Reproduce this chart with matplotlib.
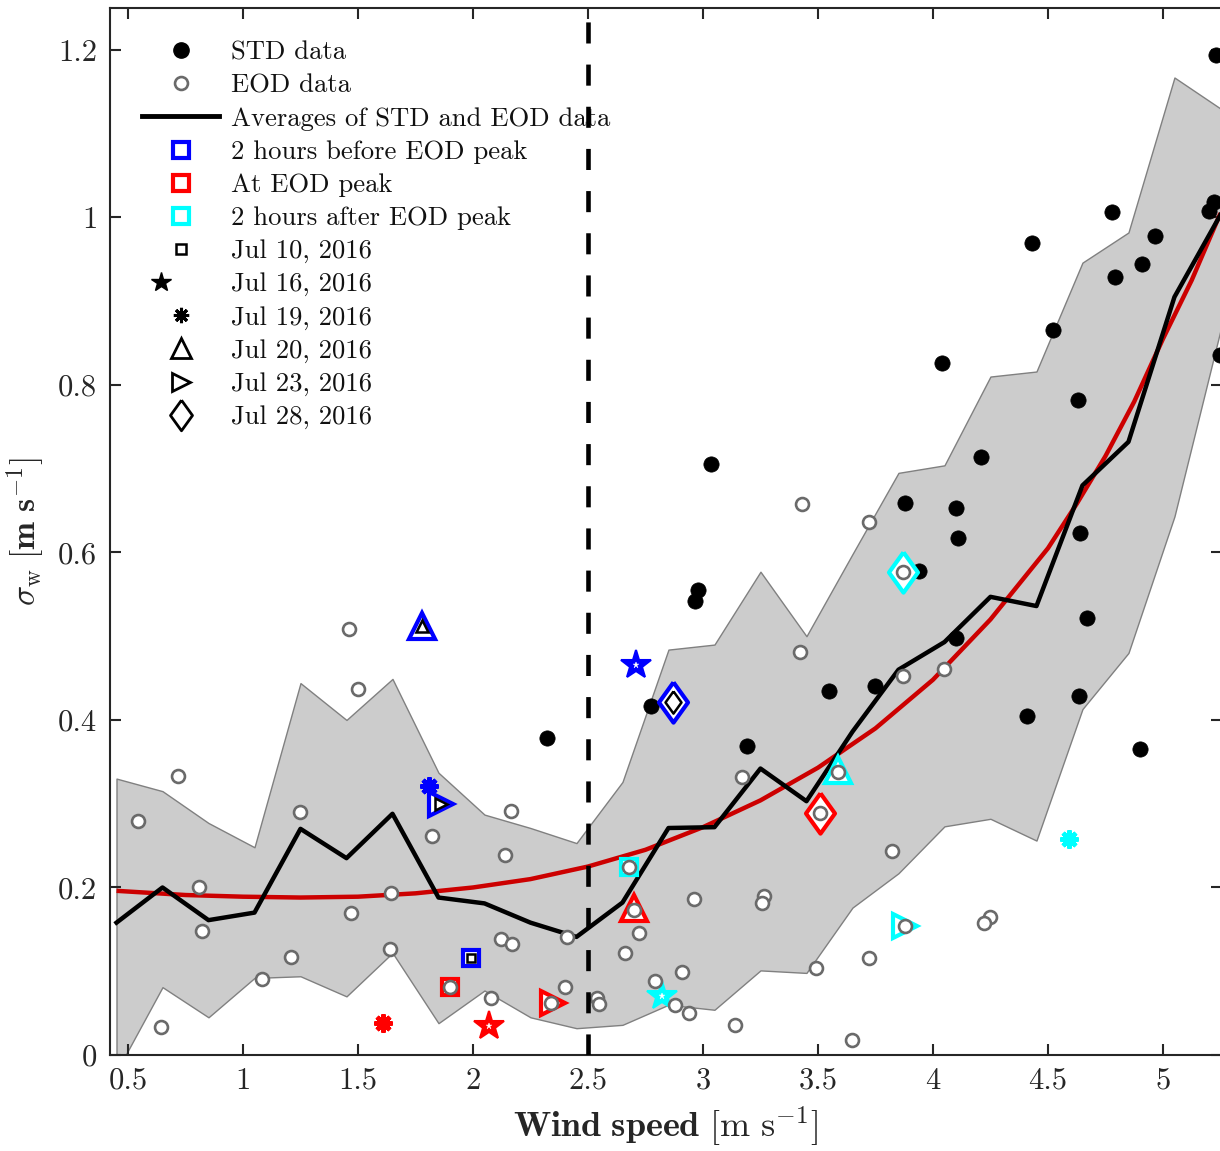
import matplotlib
matplotlib.use("Agg")
import matplotlib.pyplot as plt
from matplotlib.lines import Line2D
from matplotlib.legend_handler import HandlerTuple

plt.rcParams['font.family'] = ['cmr10', 'DejaVu Serif']
plt.rcParams['mathtext.fontset'] = 'cm'
plt.rcParams['axes.formatter.use_mathtext'] = True
plt.rcParams['axes.unicode_minus'] = False

# ---------------- data ----------------
bin_x = [0.45, 0.65, 0.85, 1.05, 1.25, 1.45, 1.65, 1.85, 2.05, 2.25, 2.45, 2.65,
         2.85, 3.05, 3.25, 3.45, 3.65, 3.85, 4.05, 4.25, 4.45, 4.65, 4.85, 5.05, 5.25]
avg_y = [0.158, 0.200, 0.161, 0.170, 0.270, 0.235, 0.288, 0.188, 0.181, 0.158, 0.141, 0.182,
         0.271, 0.272, 0.342, 0.303, 0.386, 0.460, 0.493, 0.547, 0.536, 0.680, 0.732, 0.905, 1.003]
band_hi = [0.330, 0.315, 0.277, 0.248, 0.444, 0.400, 0.449, 0.337, 0.287, 0.271, 0.253, 0.326,
           0.484, 0.490, 0.577, 0.500, 0.598, 0.695, 0.704, 0.810, 0.816, 0.946, 0.982, 1.167, 1.130]
band_lo = [-0.020, 0.081, 0.045, 0.092, 0.094, 0.070, 0.122, 0.038, 0.077, 0.045, 0.032, 0.036,
           0.060, 0.054, 0.101, 0.098, 0.176, 0.217, 0.273, 0.282, 0.256, 0.413, 0.480, 0.643, 0.865]

fit_x = [0.45, 0.75, 1.0, 1.25, 1.5, 1.75, 2.0, 2.25, 2.5, 2.75, 3.0, 3.25, 3.5, 3.75,
         4.0, 4.25, 4.5, 4.625, 4.75, 4.875, 5.0, 5.125, 5.25]
fit_y = [0.196, 0.191, 0.189, 0.188, 0.189, 0.193, 0.200, 0.210, 0.225, 0.245, 0.272, 0.304,
         0.343, 0.390, 0.448, 0.520, 0.605, 0.658, 0.715, 0.780, 0.855, 0.925, 1.005]

std_x = [2.32, 5.23, 5.22, 5.20, 5.25, 4.78, 4.79, 4.91, 4.965, 4.43, 4.52, 4.04, 4.21, 4.63,
         4.10, 4.11, 3.88, 3.94, 3.88, 4.10, 4.64, 4.67, 4.635, 4.41, 4.90, 3.55, 3.75, 3.19,
         3.035, 2.98, 2.967, 2.775]
std_y = [0.379, 1.194, 1.018, 1.008, 0.836, 1.007, 0.929, 0.944, 0.978, 0.970, 0.866, 0.826,
         0.714, 0.782, 0.653, 0.617, 0.659, 0.578, 0.579, 0.498, 0.623, 0.522, 0.429, 0.405,
         0.365, 0.435, 0.440, 0.369, 0.706, 0.555, 0.542, 0.417]

eod_x = [0.717, 1.46, 1.50, 0.545, 1.25, 1.82, 2.165, 2.14, 0.81, 1.645, 1.47, 0.823, 2.41,
         2.12, 2.17, 1.64, 1.207, 1.083, 1.90, 2.40, 2.08, 2.54, 2.55, 0.645, 2.34, 3.82, 2.96,
         3.265, 3.255, 2.72, 2.66, 2.91, 2.79, 2.88, 2.94, 3.14, 3.49, 3.72, 3.65, 4.25, 4.22,
         2.68, 2.70, 3.51, 3.88, 3.17, 3.43, 3.72, 3.42, 3.87, 4.05, 3.87, 3.585]
eod_y = [0.333, 0.509, 0.437, 0.279, 0.290, 0.262, 0.291, 0.239, 0.200, 0.194, 0.169, 0.148,
         0.141, 0.139, 0.132, 0.127, 0.117, 0.091, 0.081, 0.081, 0.068, 0.068, 0.061, 0.033,
         0.062, 0.244, 0.186, 0.190, 0.182, 0.146, 0.122, 0.099, 0.088, 0.060, 0.050, 0.036,
         0.104, 0.116, 0.018, 0.165, 0.158, 0.225, 0.173, 0.289, 0.154, 0.332, 0.658, 0.636,
         0.481, 0.452, 0.461, 0.577, 0.338]

dates = ['Jul 10, 2016', 'Jul 16, 2016', 'Jul 19, 2016', 'Jul 20, 2016', 'Jul 23, 2016', 'Jul 28, 2016']
phases = ['2 hours before EOD peak', 'At EOD peak', '2 hours after EOD peak']
before_x = [1.99, 2.71, 1.81, 1.78, 1.86, 2.87]
before_y = [0.116, 0.466, 0.321, 0.512, 0.300, 0.421]
peak_x = [1.90, 2.07, 1.607, 2.70, 2.35, 3.51]
peak_y = [0.081, 0.035, 0.038, 0.175, 0.062, 0.289]
after_x = [2.68, 2.82, 4.59, 3.585, 3.88, 3.87]
after_y = [0.225, 0.070, 0.258, 0.340, 0.154, 0.577]

xticks = [0.5, 1, 1.5, 2, 2.5, 3, 3.5, 4, 4.5, 5]
xticklabels = ['0.5', '1', '1.5', '2', '2.5', '3', '3.5', '4', '4.5', '5']
yticks = [0, 0.2, 0.4, 0.6, 0.8, 1.0, 1.2]
yticklabels = ['0', '0.2', '0.4', '0.6', '0.8', '1', '1.2']

# ---------------- styles ----------------
W, H = 1220, 1151
fig = plt.figure(figsize=(W / 100, H / 100), dpi=100)
ax_l, ax_r, ax_t, ax_b = 109.6, 1221.6, 8, 1055
ax = fig.add_axes([ax_l / W, 1 - ax_b / H, (ax_r - ax_l) / W, (ax_b - ax_t) / H])
ax.set_xlim(0.42, 5.255)
ax.set_ylim(0, 1.25)

spine_c = '#262626'
for s in ax.spines.values():
    s.set_color(spine_c)
    s.set_linewidth(1.5)
ax.tick_params(direction='in', length=8, width=1.5, color=spine_c, labelcolor=spine_c,
               top=True, right=True, labelsize=22, pad=9)
ax.set_xticks(xticks)
ax.set_xticklabels(xticklabels)
ax.set_yticks(yticks)
ax.set_yticklabels(yticklabels)

ax.fill_between(bin_x, band_lo, band_hi, facecolor='#cccccc', edgecolor='#808080',
                linewidth=1.0, zorder=1)
ax.plot(fit_x, fit_y, color='#cc0000', lw=3.2, zorder=3, solid_capstyle='butt')
ax.plot(bin_x, avg_y, color='k', lw=3.2, zorder=4)
ax.axvline(2.5, color='k', lw=3.3, ls=(0, (4.6, 4.6)), zorder=20)

ax.plot(std_x, std_y, ls='none', marker='o', ms=11, mfc='k', mec='k', mew=0.5, zorder=6)

diamond = [(0, 1), (0.72, 0), (0, -1), (-0.72, 0), (0, 1)]
asterisk = (8, 2, 0)
shapes = ['s', '*', asterisk, '^', '>', diamond]
big_ms = [11, 22, 13, 19, 17, 29]
colors = ['#0000ff', '#ff0000', '#00ffff']
groups = [(before_x, before_y), (peak_x, peak_y), (after_x, after_y)]
for (gx, gy), col in zip(groups, colors):
    for i, (px, py) in enumerate(zip(gx, gy)):
        shp = shapes[i]
        if i == 1:
            ax.plot([px], [py], ls='none', marker='*', ms=big_ms[i], mfc=col, mec=col,
                    mew=1.5, zorder=7)
            ax.plot([px], [py], ls='none', marker='*', ms=5, mfc='white', mec='white',
                    mew=0.3, zorder=9)
        elif i == 2:
            ax.plot([px], [py], ls='none', marker=shp, ms=big_ms[i], mfc=col, mec=col,
                    mew=3.2, zorder=7)
        else:
            ax.plot([px], [py], ls='none', marker=shp, ms=big_ms[i], mfc='white', mec=col,
                    mew=3, zorder=7)

# inner black markers for the "before" set
inner_ms = [6, 5, 6, 9, 8, 16]
for i, (px, py) in enumerate(zip(before_x, before_y)):
    if i in (1, 2):
        continue
    ax.plot([px], [py], ls='none', marker=shapes[i], ms=inner_ms[i], mfc='white', mec='k',
            mew=1.8, zorder=9)

ax.plot(eod_x, eod_y, ls='none', marker='o', ms=9.3, mfc='white', mec='#6a6a6a',
        mew=1.9, zorder=8)

ax.set_xlabel(r'$\mathbf{Wind\ speed}\ [\mathrm{m\ s}^{-1}]$', fontsize=26, labelpad=7,
              color=spine_c)
ax.set_ylabel(r'$\sigma_{\mathrm{w}}\ [\mathbf{m\ s}^{-1}]$', fontsize=24, labelpad=8,
              color=spine_c)

# ---------------- legend ----------------
h_std = Line2D([], [], ls='none', marker='o', ms=11, mfc='k', mec='k')
h_eod = Line2D([], [], ls='none', marker='o', ms=9.3, mfc='white', mec='#6a6a6a', mew=1.9)
h_avg = Line2D([], [], color='k', lw=3.5)
h_phase = [Line2D([], [], ls='none', marker='s', ms=11, mfc='white', mec=c, mew=3) for c in colors]
h_d10 = Line2D([], [], ls='none', marker='s', ms=7, mfc='white', mec='k', mew=1.8)
h_d16 = (Line2D([], [], ls='none', marker='*', ms=15, mfc='k', mec='k', mew=1),
         Line2D([], [], ls='none', marker='*', ms=4, mfc='white', mec='white', mew=0.3))
h_d19 = Line2D([], [], ls='none', marker=asterisk, ms=11, mfc='k', mec='k', mew=2.2)
h_d20 = Line2D([], [], ls='none', marker='^', ms=15, mfc='white', mec='k', mew=2)
h_d23 = Line2D([], [], ls='none', marker='>', ms=13, mfc='white', mec='k', mew=2)
h_d28 = Line2D([], [], ls='none', marker=diamond, ms=22, mfc='white', mec='k', mew=2)

handles = [h_std, h_eod, h_avg] + h_phase + [h_d10, h_d16, h_d19, h_d20, h_d23, h_d28]
labels = ['STD data', 'EOD data', 'Averages of STD and EOD data'] + phases + dates
leg = ax.legend(handles, labels, loc='upper left', bbox_to_anchor=(142 / W, 1 - 41 / H),
                bbox_transform=fig.transFigure, frameon=False, fontsize=19.2,
                handlelength=2.9, handletextpad=0.45, labelspacing=0.35, borderpad=0,
                borderaxespad=0, handler_map={tuple: HandlerTuple(ndivide=None, pad=0)})
leg.set_zorder(15)
for t in leg.get_texts():
    t.set_color('#111111')

fig.savefig('out.png', dpi=100)
